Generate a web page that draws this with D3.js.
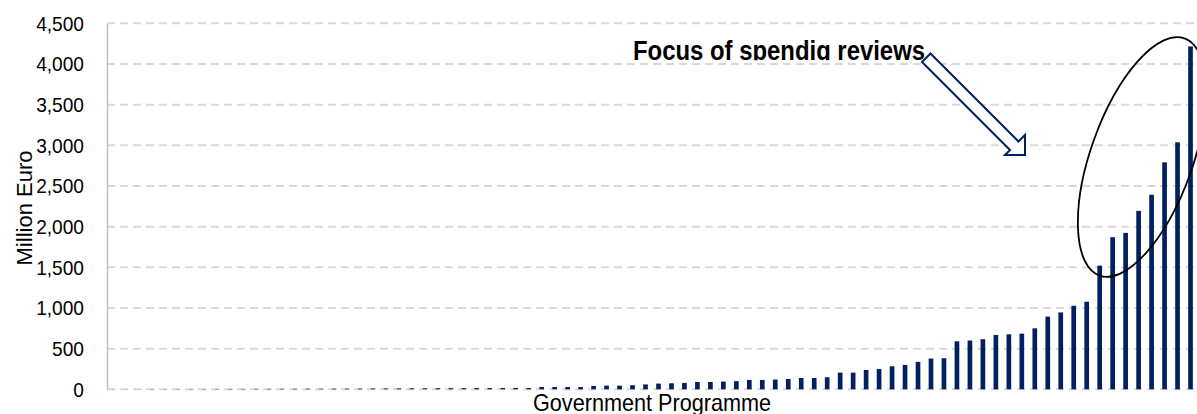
<!DOCTYPE html>
<html>
<head>
<meta charset="utf-8">
<script src="https://cdn.jsdelivr.net/npm/d3@7"></script>
<style>
  body { margin: 0; background: #fff; }
  text { font-family: "Liberation Sans", Arial, sans-serif; fill: #000; }
</style>
</head>
<body>
<script>
const width = 1197;
const height = 414;

// programme spending, million euro, sorted ascending
const values = [
  1, 1, 1, 2, 2, 2, 3, 3, 3, 4, 4, 5, 5, 6, 6, 7, 7, 8, 8, 9,
  10, 10, 11, 12, 12, 13, 14, 14, 15, 15,
  16, 16, 16, 28, 28, 28, 28, 41, 45, 45, 50, 60, 70, 74, 78,
  90, 90, 95, 100, 115, 115, 120, 127, 139, 139, 148, 205, 205, 238, 250,
  283, 300, 337, 378, 382, 590, 600, 616, 668, 676, 684, 750, 894, 945,
  1027, 1077, 1520, 1870, 1923, 2194, 2392, 2790, 3037, 4216
];
const yTicks = [0, 500, 1000, 1500, 2000, 2500, 3000, 3500, 4000, 4500];
const yLabel = "Million Euro";
const xLabel = "Government Programme";
const note = "Focus of spendig reviews";

const margin = {top: 23.3, right: 0, bottom: 24.7, left: 107};

const svg = d3.select('body')
  .append('svg')
  .attr('width', width)
  .attr('height', height);

const x = d3.scaleBand()
  .domain(d3.range(values.length))
  .range([margin.left, width - margin.right])
  .paddingInner(0.64)
  .paddingOuter(0.32);

const y = d3.scaleLinear()
  .domain([0, 4500])
  .range([height - margin.bottom, margin.top]);

// dashed gridlines
svg.append("g")
    .attr("class", "grid")
  .selectAll("line")
  .data(yTicks)
  .enter().append("line")
    .attr("x1", margin.left)
    .attr("x2", width)
    .attr("y1", d => y(d))
    .attr("y2", d => y(d))
    .attr("stroke", "#d9d9d9")
    .attr("stroke-width", 2)
    .attr("stroke-dasharray", "8,5");

// y axis
const yAxis = svg.append("g")
    .attr("transform", "translate(" + margin.left + ",0)")
    .call(d3.axisLeft(y)
      .tickValues(yTicks)
      .tickSize(0)
      .tickPadding(23)
      .tickFormat(d3.format(",")));

yAxis.select(".domain")
    .attr("stroke", "#bfbfbf")
    .attr("stroke-width", 1.5);

yAxis.selectAll("text")
    .style("font-size", "21px")
    .attr("fill", "#000")
    .each(function() {
      this.setAttribute("textLength", this.getComputedTextLength() * 0.91);
      this.setAttribute("lengthAdjust", "spacingAndGlyphs");
    });

// bars
svg.append("g")
    .attr("class", "bars")
  .selectAll("rect")
  .data(values)
  .enter().append("rect")
    .attr("x", (d, i) => x(i))
    .attr("width", x.bandwidth())
    .attr("y", d => y(d))
    .attr("height", d => y(0) - y(d))
    .attr("fill", "#002060");

// axis titles
svg.append("text")
    .attr("transform", "translate(32," + 208 + ") rotate(-90)")
    .attr("text-anchor", "middle")
    .style("font-size", "22px")
    .text(yLabel);

svg.append("text")
    .attr("x", 533)
    .attr("y", 411.3)
    .attr("textLength", 238)
    .attr("lengthAdjust", "spacingAndGlyphs")
    .style("font-size", "24px")
    .text(xLabel);

// annotation: clipped text box
svg.append("clipPath")
    .attr("id", "noteclip")
  .append("rect")
    .attr("x", 600).attr("y", 0)
    .attr("width", 400).attr("height", 60.3);

svg.append("text")
    .attr("clip-path", "url(#noteclip)")
    .attr("x", 633)
    .attr("y", 59.5)
    .attr("textLength", 292)
    .attr("lengthAdjust", "spacingAndGlyphs")
    .style("font-size", "27px")
    .style("font-weight", "bold")
    .text(note);

// block arrow pointing at the largest programmes
const arrowPts = [
  [930.5, 53.5], [1018.5, 141.5], [1025, 135], [1025, 155],
  [1005, 155], [1010, 150], [922, 62]
];
svg.append("polygon")
    .attr("points", arrowPts.map(p => p.join(",")).join(" "))
    .attr("fill", "#fff")
    .attr("stroke", "#002060")
    .attr("stroke-width", 2);

// ellipse round the top bars
svg.append("ellipse")
    .attr("cx", 0).attr("cy", 0)
    .attr("rx", 51).attr("ry", 126)
    .attr("transform", "translate(1142,157) rotate(19.7)")
    .attr("fill", "none")
    .attr("stroke", "#000")
    .attr("stroke-width", 1.8);
</script>
</body>
</html>
